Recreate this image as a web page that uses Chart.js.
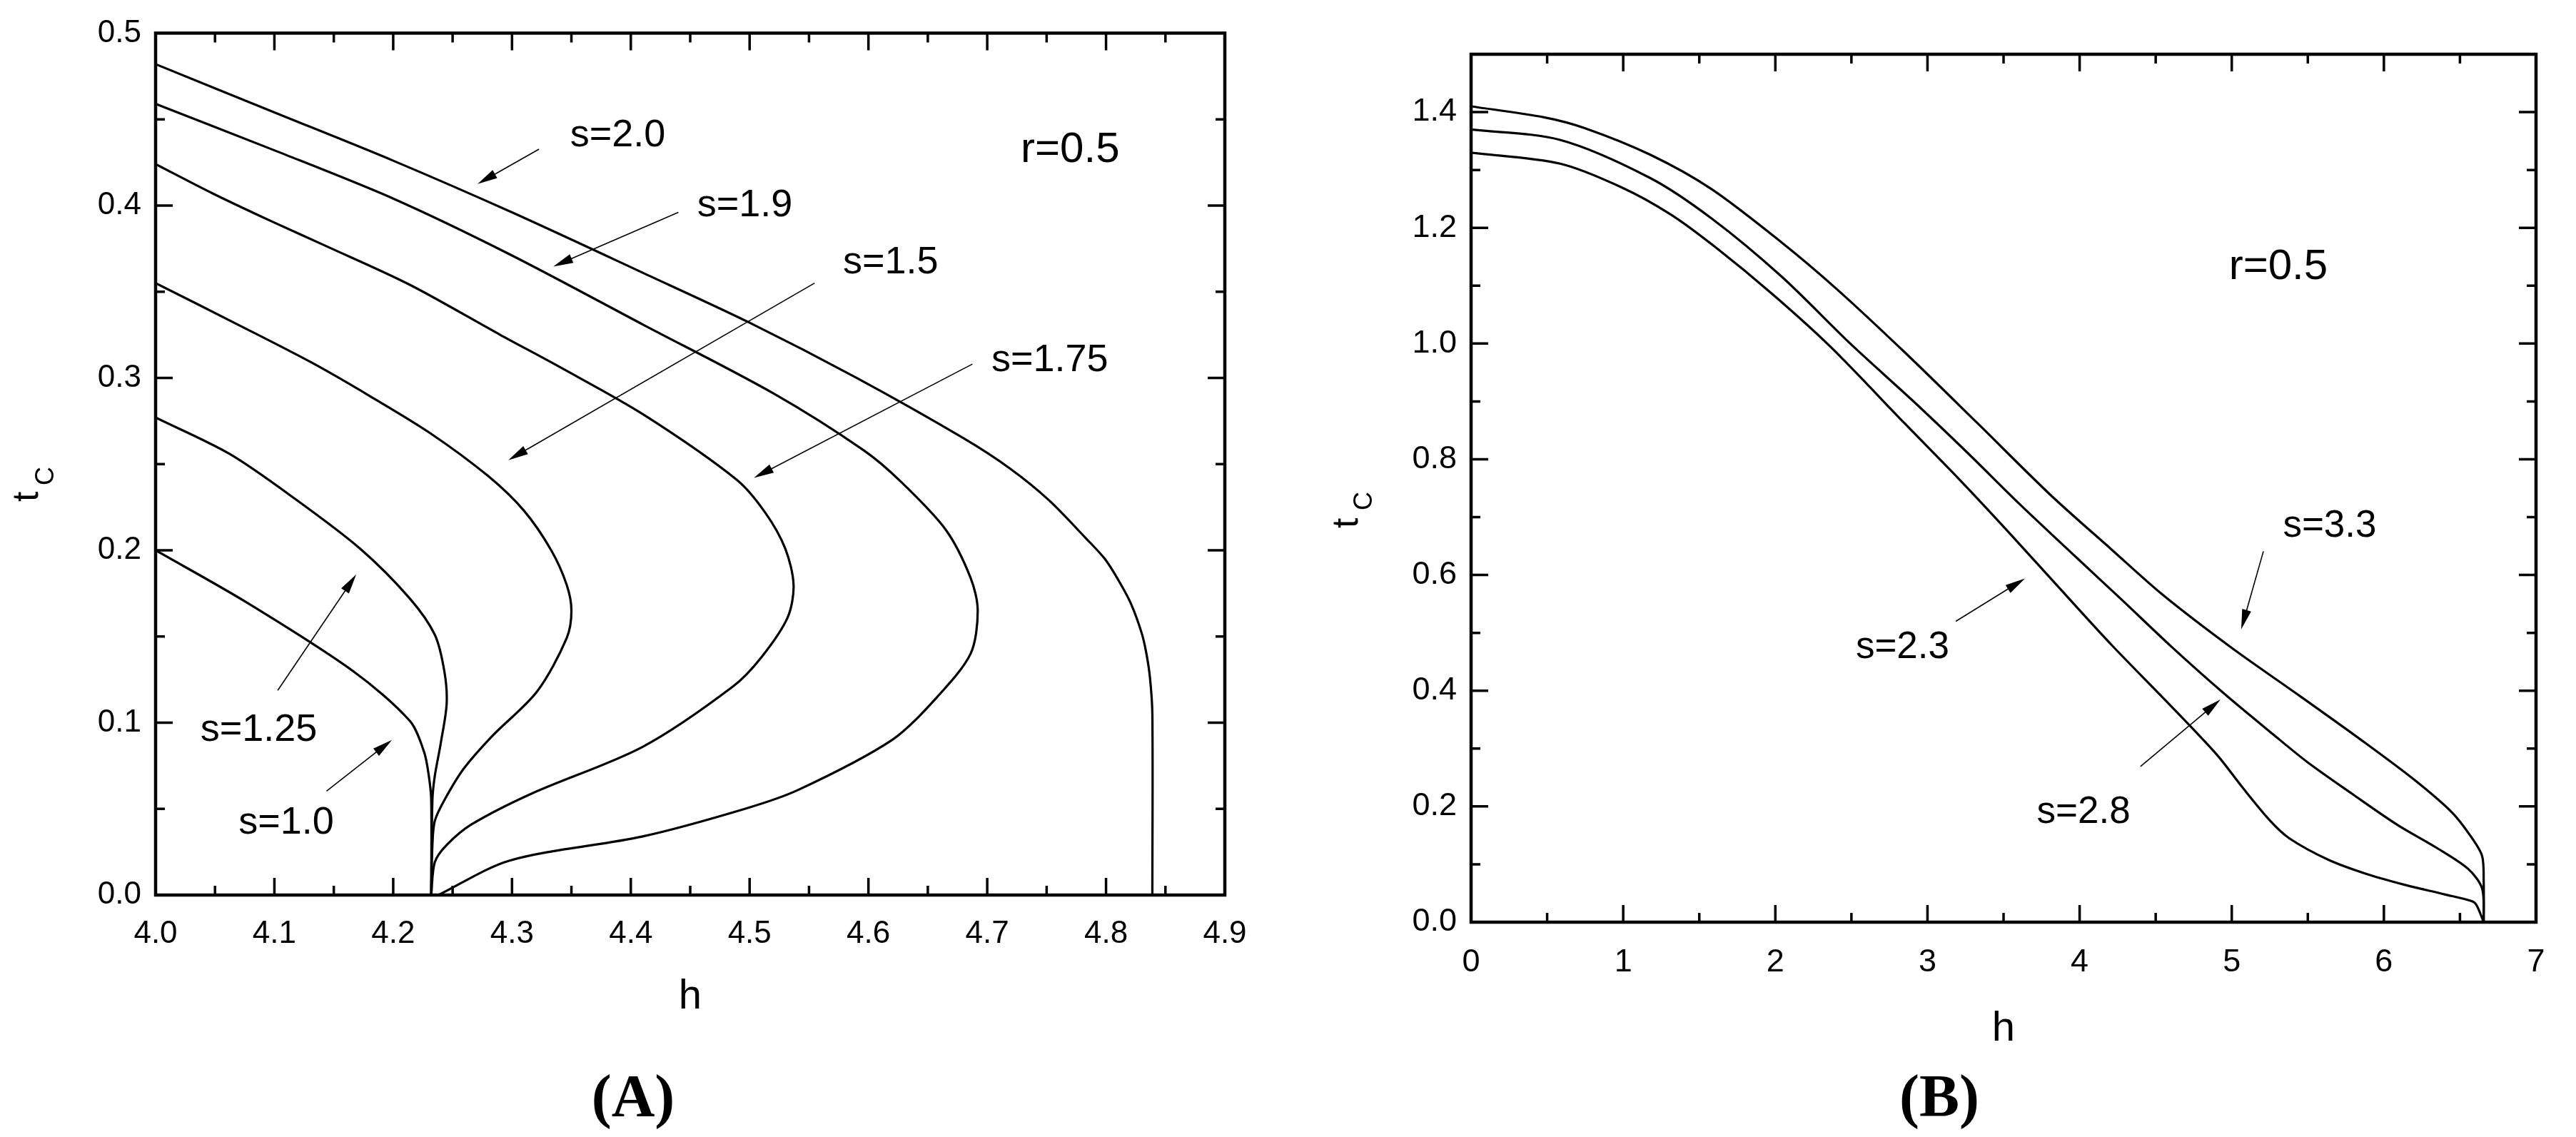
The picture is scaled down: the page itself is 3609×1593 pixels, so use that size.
<!DOCTYPE html>
<html lang="en">
<head>
<meta charset="UTF-8">
<title>t_C versus h, r=0.5</title>
<script src="https://cdn.jsdelivr.net/npm/chart.js"></script>
<style>
  html, body { margin: 0; padding: 0; background: #fff; }
  body { width: 3609px; height: 1593px; position: relative; overflow: hidden; }
  canvas { position: absolute; top: 0; }
  #chartA { left: 0; }
  #chartB { left: 1850px; }
  .panel {
    position: absolute;
    font: bold 84px "Liberation Serif", "Times New Roman", serif;
    transform: translate(-50%, -50%);
    line-height: 1;
  }
</style>
</head>
<body>
<canvas id="chartA" width="1850" height="1593"></canvas>
<canvas id="chartB" width="1759" height="1593"></canvas>
<div class="panel" style="left:887px; top:1536px">(A)</div>
<div class="panel" style="left:2717px; top:1536px">(B)</div>
<script>
// panel A: t_C against h, one curve per s, points are [h, t_C]
const curveA_s20 = [[4.0,0.482],[4.1,0.454],[4.2,0.426],[4.3,0.396],[4.41,0.361],[4.5,0.332],[4.59,0.300],[4.68,0.265],[4.72,0.247],[4.752,0.229],[4.783,0.207],[4.799,0.195],[4.811,0.182],[4.821,0.169],[4.830,0.152],[4.834,0.140],[4.837,0.126],[4.839,0.105],[4.839,0]];
const curveA_s19 = [[4.0,0.459],[4.1,0.432],[4.2,0.404],[4.3,0.371],[4.41,0.331],[4.52,0.291],[4.596,0.258],[4.627,0.240],[4.665,0.212],[4.686,0.184],[4.692,0.165],[4.686,0.140],[4.658,0.115],[4.620,0.090],[4.541,0.061],[4.496,0.050],[4.41,0.034],[4.298,0.020],[4.238,0]];
const curveA_s175 = [[4.0,0.424],[4.048,0.407],[4.097,0.391],[4.145,0.376],[4.214,0.354],[4.29,0.325],[4.341,0.306],[4.41,0.279],[4.489,0.241],[4.513,0.222],[4.530,0.201],[4.537,0.180],[4.532,0.161],[4.510,0.138],[4.486,0.121],[4.41,0.086],[4.317,0.059],[4.266,0.041],[4.245,0.029],[4.235,0.019],[4.232,0]];
const curveA_s15 = [[4.0,0.355],[4.069,0.331],[4.131,0.309],[4.179,0.290],[4.231,0.268],[4.28,0.243],[4.31,0.223],[4.333,0.200],[4.346,0.180],[4.35,0.165],[4.346,0.149],[4.321,0.118],[4.283,0.092],[4.259,0.073],[4.243,0.055],[4.235,0.043],[4.233,0.029],[4.232,0]];
const curveA_s125 = [[4.0,0.277],[4.062,0.256],[4.117,0.230],[4.172,0.201],[4.214,0.172],[4.235,0.151],[4.243,0.130],[4.245,0.111],[4.240,0.088],[4.235,0.069],[4.233,0.055],[4.232,0]];
const curveA_s10 = [[4.0,0.200],[4.076,0.170],[4.166,0.130],[4.214,0.101],[4.226,0.083],[4.230,0.069],[4.232,0.055],[4.232,0]];

// panel B
const curveB_s23 = [[0,1.33],[0.585,1.311],[0.989,1.270],[1.313,1.223],[1.609,1.166],[1.987,1.084],[2.364,0.994],[2.85,0.862],[3.21,0.765],[3.544,0.671],[3.879,0.574],[4.214,0.478],[4.573,0.381],[4.9,0.290],[5.07,0.233],[5.25,0.176],[5.378,0.145],[5.634,0.108],[5.89,0.083],[6.145,0.064],[6.40,0.048],[6.58,0.036],[6.61,0.029],[6.656,0]];
const curveB_s28 = [[0,1.370],[0.585,1.352],[1.178,1.286],[1.582,1.216],[2.04,1.116],[2.5,0.998],[2.9,0.902],[3.26,0.812],[3.6,0.724],[3.98,0.630],[4.27,0.559],[4.6,0.477],[4.95,0.395],[5.27,0.325],[5.5,0.276],[5.79,0.222],[6.09,0.168],[6.35,0.128],[6.554,0.092],[6.646,0.058],[6.656,0]];
const curveB_s33 = [[0,1.41],[0.48,1.391],[0.75,1.372],[1.18,1.326],[1.58,1.267],[2.04,1.175],[2.40,1.095],[2.85,0.985],[3.33,0.862],[3.81,0.738],[4.21,0.644],[4.55,0.565],[5.0,0.474],[5.42,0.396],[5.85,0.315],[6.2,0.246],[6.45,0.189],[6.58,0.145],[6.646,0.114],[6.656,0.07],[6.656,0]];

// labels and arrows, placed in data units (h, t_C)
const notesA = [
  { text: 's=2.0',  at: [4.389, 0.4405], from: [4.3227, 0.4327], to: [4.271, 0.4125] },
  { text: 's=1.9',  at: [4.496, 0.400],  from: [4.440, 0.396],   to: [4.3347, 0.3646] },
  { text: 's=1.5',  at: [4.6187, 0.3666], from: [4.5547, 0.355], to: [4.2969, 0.2523] },
  { text: 's=1.75', at: [4.7527, 0.310], from: [4.6875, 0.308],  to: [4.5036, 0.242] },
  { text: 's=1.25', at: [4.0868, 0.0958], from: [4.1028, 0.1187], to: [4.1689, 0.186] },
  { text: 's=1.0',  at: [4.11, 0.0418],  from: [4.1439, 0.0603], to: [4.1989, 0.09] },
  { text: 'r=0.5',  at: [4.7698, 0.4319], big: true }
];
const notesB = [
  { text: 's=2.3', at: [2.836, 0.475], from: [3.186, 0.52],  to: [3.641, 0.594] },
  { text: 's=3.3', at: [5.644, 0.684], from: [5.208, 0.641], to: [5.062, 0.506] },
  { text: 's=2.8', at: [4.026, 0.189], from: [4.40, 0.269],  to: [4.926, 0.385] },
  { text: 'r=0.5', at: [5.306, 1.132], big: true }
];

const FONT = '"Liberation Sans", Arial, sans-serif';

function arrow(ctx, x0, y0, x1, y1) {
  const ang = Math.atan2(y1 - y0, x1 - x0);
  const len = 28, half = 6.5;
  ctx.lineWidth = 1.6;
  ctx.beginPath();
  ctx.moveTo(x0, y0);
  ctx.lineTo(x1 - Math.cos(ang) * len * 0.8, y1 - Math.sin(ang) * len * 0.8);
  ctx.stroke();
  ctx.beginPath();
  ctx.moveTo(x1, y1);
  ctx.lineTo(x1 - Math.cos(ang) * len - Math.sin(ang) * half, y1 - Math.sin(ang) * len + Math.cos(ang) * half);
  ctx.lineTo(x1 - Math.cos(ang) * len + Math.sin(ang) * half, y1 - Math.sin(ang) * len - Math.cos(ang) * half);
  ctx.closePath();
  ctx.fill();
}

// frame, inward ticks on four sides, notes and axis titles
const decoPlugin = {
  id: 'deco',
  afterDatasetsDraw(chart, args, o) {
    const { ctx, chartArea: a } = chart;
    const xs = chart.scales.x, ys = chart.scales.y;
    ctx.save();
    ctx.strokeStyle = '#000';
    ctx.fillStyle = '#000';

    ctx.lineWidth = 4.5;
    ctx.strokeRect(a.left, a.top, a.right - a.left, a.bottom - a.top);

    ctx.lineWidth = 3.5;
    ctx.beginPath();
    const nx = Math.round((xs.max - xs.min) / o.xMinor);
    for (let i = 1; i < nx; i++) {
      const px = xs.getPixelForValue(xs.min + i * o.xMinor);
      const len = i % 2 === 0 ? 24 : 13;
      ctx.moveTo(px, a.bottom); ctx.lineTo(px, a.bottom - len);
      ctx.moveTo(px, a.top); ctx.lineTo(px, a.top + len);
    }
    const ny = Math.round((ys.max - ys.min) / o.yMinor);
    for (let i = 1; i < ny; i++) {
      const py = ys.getPixelForValue(ys.min + i * o.yMinor);
      const len = i % 2 === 0 ? 24 : 13;
      ctx.moveTo(a.left, py); ctx.lineTo(a.left + len, py);
      ctx.moveTo(a.right, py); ctx.lineTo(a.right - len, py);
    }
    ctx.stroke();

    ctx.textAlign = 'center';
    ctx.textBaseline = 'middle';
    for (const n of o.notes) {
      ctx.font = (n.big ? o.bigSize : o.noteSize) + 'px ' + FONT;
      ctx.fillText(n.text, xs.getPixelForValue(n.at[0]), ys.getPixelForValue(n.at[1]));
      if (n.from) {
        arrow(ctx, xs.getPixelForValue(n.from[0]), ys.getPixelForValue(n.from[1]),
                   xs.getPixelForValue(n.to[0]), ys.getPixelForValue(n.to[1]));
      }
    }

    // x title
    ctx.textBaseline = 'alphabetic';
    ctx.font = '58px ' + FONT;
    ctx.fillText('h', (a.left + a.right) / 2, a.bottom + o.hDy);

    // y title t_C, read bottom to top
    ctx.translate(o.tX, o.tY);
    ctx.rotate(-Math.PI / 2);
    ctx.textAlign = 'left';
    ctx.font = '52px ' + FONT;
    ctx.fillText('t', 0, 0);
    ctx.font = '36px ' + FONT;
    ctx.fillText('C', o.subDx, o.subDy);
    ctx.restore();
  }
};

function lineSet(points) {
  return {
    data: points.map(p => ({ x: p[0], y: p[1] })),
    showLine: true,
    borderColor: '#000',
    borderWidth: 3.2,
    pointRadius: 0,
    fill: false,
    tension: 0.3
  };
}

function makeChart(id, cfg) {
  return new Chart(document.getElementById(id), {
    type: 'scatter',
    data: { datasets: cfg.curves.map(lineSet) },
    options: {
      responsive: false,
      animation: false,
      events: [],
      layout: { padding: { left: 0, top: cfg.top, right: cfg.right, bottom: 0 } },
      plugins: {
        legend: { display: false },
        tooltip: { enabled: false },
        deco: cfg.deco
      },
      scales: {
        x: {
          type: 'linear', min: cfg.xMin, max: cfg.xMax,
          grid: { display: false, drawTicks: false },
          border: { display: false },
          ticks: {
            stepSize: cfg.xStep, autoSkip: false, maxRotation: 0,
            padding: cfg.xPad, color: '#000',
            font: { family: FONT, size: cfg.tickSize },
            callback: v => v.toFixed(cfg.xDec)
          },
          afterFit: s => { s.height = cfg.xH; }
        },
        y: {
          type: 'linear', min: cfg.yMin, max: cfg.yMax,
          grid: { display: false, drawTicks: false },
          border: { display: false },
          ticks: {
            stepSize: cfg.yStep, autoSkip: false, includeBounds: false,
            padding: 20, color: '#000',
            font: { family: FONT, size: cfg.tickSize },
            callback: v => v.toFixed(1)
          },
          afterFit: s => { s.width = cfg.yW; }
        }
      }
    },
    plugins: [decoPlugin]
  });
}

makeChart('chartA', {
  curves: [curveA_s20, curveA_s19, curveA_s175, curveA_s15, curveA_s125, curveA_s10],
  top: 43, right: 1850 - 1716, xH: 1593 - 1254, yW: 218,
  xMin: 4.0, xMax: 4.9, xStep: 0.1, xDec: 1, xPad: 28,
  yMin: 0, yMax: 0.5, yStep: 0.1, tickSize: 44,
  deco: { notes: notesA, xMinor: 0.05, yMinor: 0.05, noteSize: 54, bigSize: 60,
          hDy: 159, tX: 53, tY: 703, subDx: 23, subDy: 22 }
});

makeChart('chartB', {
  curves: [curveB_s23, curveB_s28, curveB_s33],
  top: 76, right: 1759 - 1703, xH: 1593 - 1292, yW: 211,
  xMin: 0, xMax: 7, xStep: 1, xDec: 0, xPad: 30,
  yMin: 0, yMax: 1.5, yStep: 0.2, tickSize: 45,
  deco: { notes: notesB, xMinor: 0.5, yMinor: 0.1, noteSize: 53, bigSize: 60,
          hDy: 166, tX: 52, tY: 740, subDx: 25, subDy: 20 }
});
</script>
</body>
</html>
